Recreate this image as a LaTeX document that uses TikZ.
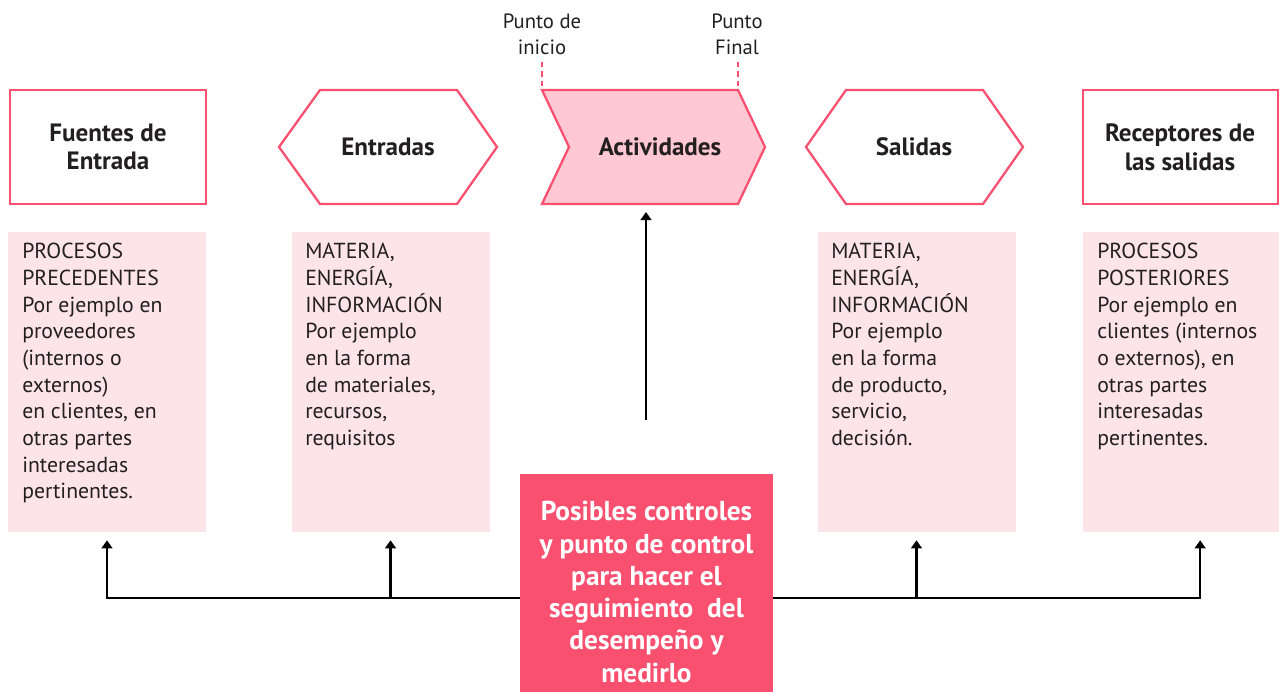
\documentclass[tikz,border=0pt]{standalone}
\usepackage{fontspec}
\setmainfont{PT Sans}
\usetikzlibrary{arrows.meta,positioning}
\definecolor{rosa}{HTML}{FA5070}
\definecolor{rosaclaro}{HTML}{FCE4E8}
\definecolor{rosamedio}{HTML}{FFC8D2}
\definecolor{texto}{HTML}{231F20}

\begin{document}
\begin{tikzpicture}[x=0.75pt,y=-0.75pt,
	caja/.style={draw=rosa,line width=1.7pt},
	nota/.style={fill=rosaclaro,minimum width=148.5pt,minimum height=225pt,inner sep=0pt},
	notatexto/.style={anchor=north west,align=left,inner sep=0pt,text=texto,font=\fontsize{16.3}{20}\selectfont},
	titulo/.style={align=center,text=texto,font=\bfseries\fontsize{18.8}{21.5}\selectfont},
	marca/.style={align=center,text=texto,font=\fontsize{15.5}{19.5}\selectfont},
	flecha/.style={line width=1.8pt,-{Triangle[length=6pt,width=8pt]}}]
	\useasboundingbox (0,0) rectangle (1279,692);
	% fuentes y entradas
	\draw[caja] (10,90) rectangle (206,204);
	\node[titulo] (fuentes) at (108,147) {Fuentes de\\Entrada};
	\draw[caja] (279,147) -- (320,90) -- (457,90) -- (497,147) -- (457,204) -- (320,204) -- cycle;
	\node[titulo] (entradas) at (388,147) {Entradas};
	% actividades
	\draw[caja,fill=rosamedio] (542,90) -- (738,90) -- (765,147) -- (738,204) -- (542,204) -- (569,147) -- cycle;
	\node[titulo] (act) at (660,147) {Actividades};
	\coordinate (actbase) at (646,204);
	\node[marca] (inicio) at (542,34) {Punto de\\inicio};
	\node[marca] (final) at (737,34) {Punto\\Final};
	\draw[rosa,line width=1.5pt,dash pattern=on 4pt off 3pt] (inicio.south |- 0,62) -- (542,90);
	\draw[rosa,line width=1.5pt,dash pattern=on 4pt off 3pt] (738,62) -- (738,90);
	% salidas y receptores
	\draw[caja] (806,147) -- (846,90) -- (983,90) -- (1023,147) -- (983,204) -- (846,204) -- cycle;
	\node[titulo] (salidas) at (914,147) {Salidas};
	\draw[caja] (1083,90) rectangle (1278,204);
	\node[titulo] (receptores) at (1180,147) {Receptores de\\las salidas};
	% notas
	\node[nota] (n1) at (107,382) {};
	\node[notatexto] (t1) at (22,243) {PROCESOS\\PRECEDENTES\\Por ejemplo en\\proveedores\\(internos o\\externos)\\en clientes, en\\otras partes\\interesadas\\pertinentes.};
	\node[nota] (n2) at (390.5,382) {};
	\node[notatexto] (t2) at (305,243) {MATERIA,\\ENERGÍA,\\INFORMACIÓN\\Por ejemplo\\en la forma\\de materiales,\\recursos,\\requisitos};
	\node[nota] (n3) at (916.5,382) {};
	\node[notatexto] (t3) at (831,243) {MATERIA,\\ENERGÍA,\\INFORMACIÓN\\Por ejemplo\\en la forma\\de producto,\\servicio,\\decisión.};
	\node[nota] (n4) at (1181.5,382) {};
	\node[notatexto] (t4) at (1097,243) {PROCESOS\\POSTERIORES\\Por ejemplo en\\clientes (internos\\o externos), en\\otras partes\\interesadas\\pertinentes.};
	% controles
	\node[fill=rosa,minimum width=189.75pt,minimum height=163.5pt,inner sep=0pt] (ctrl) at (646.5,583) {};
	\node[align=center,text=white,font=\bfseries\fontsize{20.5}{24.2}\selectfont] (ctrltexto) at (646.5,592)
		{Posibles controles\\y punto de control\\para hacer el\\seguimiento\ \ del\\desempeño y\\medirlo};
	\coordinate (barra) at (0,598);
	\coordinate (pie) at (646,420);
	\draw[flecha] (pie) -- ([yshift=-6pt]actbase);
	\draw[flecha] (ctrl.west |- barra) -| ([yshift=-6pt]n1.south);
	\draw[flecha] (ctrl.west |- barra) -| ([yshift=-6pt]n2.south);
	\draw[flecha] (ctrl.east |- barra) -| ([yshift=-6pt]n3.south);
	\draw[flecha] (ctrl.east |- barra) -| ([xshift=14pt,yshift=-6pt]n4.south);
\end{tikzpicture}
\end{document}
